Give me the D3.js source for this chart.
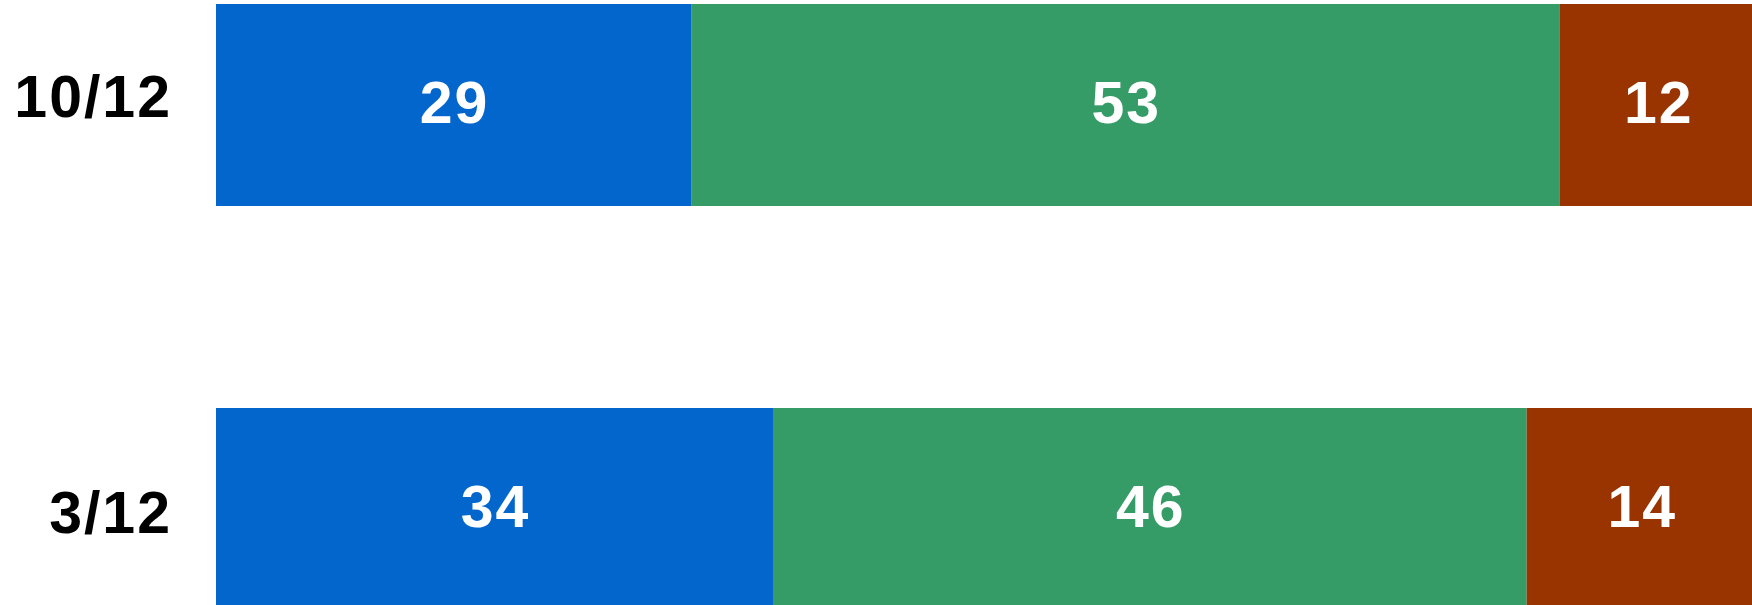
<!DOCTYPE html>
<html>
<head>
<meta charset="utf-8">
<script src="https://cdn.jsdelivr.net/npm/d3@7"></script>
<style>
  body { margin: 0; background: #fff; }
  svg { display: block; }
</style>
</head>
<body>
<div id="chart"></div>
<script>
// data
var dates = ["10/12", "3/12"];
var seriesNames = ["a", "b", "c"];
var valuesA = [29, 34];
var valuesB = [53, 46];
var valuesC = [12, 14];
var colors = ["#0366cc", "#359b67", "#993300"];

var width = 1752,
    height = 605;

var rows = dates.map(function(d, i) {
  return { date: d, a: valuesA[i], b: valuesB[i], c: valuesC[i] };
});

var stack = d3.stack().keys(seriesNames);
var layers = stack(rows);

var x = d3.scaleLinear()
          .domain([0, 94])
          .range([216, 1756]);

var y = d3.scaleBand()
          .domain(dates)
          .range([4, 610])
          .paddingInner(0.5)
          .paddingOuter(0);

// category labels sit a little off the bar centres in the original
var yLabel = d3.scalePoint()
               .domain(dates)
               .range([117, 533]);

var svg = d3.select("#chart")
            .append("svg")
            .attr("width", width)
            .attr("height", height);

var layer = svg.selectAll("g.layer")
               .data(layers)
               .enter()
               .append("g")
               .attr("class", "layer")
               .attr("fill", function(d, i) { return colors[i]; });

layer.selectAll("rect")
     .data(function(d) { return d; })
     .enter()
     .append("rect")
     .attr("x", function(d) { return x(d[0]); })
     .attr("y", function(d) { return y(d.data.date); })
     .attr("width", function(d) { return x(d[1]) - x(d[0]); })
     .attr("height", y.bandwidth());

layer.selectAll("text")
     .data(function(d) { return d; })
     .enter()
     .append("text")
     .attr("x", function(d) { return (x(d[0]) + x(d[1])) / 2 + 1; })
     .attr("y", function(d) { return y(d.data.date) + y.bandwidth() / 2 + 18; })
     .attr("text-anchor", "middle")
     .attr("fill", "#fff")
     .style("font-family", "'Liberation Sans', Arial, sans-serif")
     .style("font-weight", "bold")
     .style("font-size", "59px")
     .style("letter-spacing", "2px")
     .text(function(d) { return d[1] - d[0]; });

svg.selectAll("text.cat")
   .data(dates)
   .enter()
   .append("text")
   .attr("class", "cat")
   .attr("x", 172)
   .attr("y", function(d) { return yLabel(d); })
   .attr("text-anchor", "end")
   .attr("fill", "#000")
   .style("font-family", "'Liberation Sans', Arial, sans-serif")
   .style("font-weight", "bold")
   .style("font-size", "59px")
   .style("letter-spacing", "2px")
   .text(function(d) { return d; });
</script>
</body>
</html>
